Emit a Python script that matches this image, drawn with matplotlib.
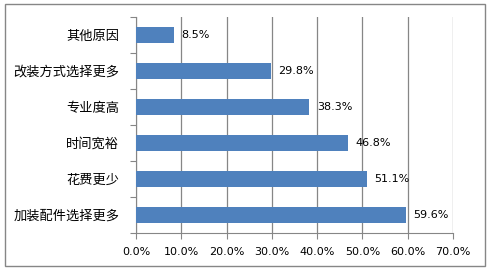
import matplotlib.pyplot as plt
from matplotlib.patches import Rectangle
import numpy as np

plt.rcParams['font.family'] = ['Noto Sans CJK SC', 'DejaVu Sans']

# data, bottom to top as drawn
reasons = ['加装配件选择更多', '花费更少', '时间宽裕', '专业度高', '改装方式选择更多', '其他原因']
pcts = [59.6, 51.1, 46.8, 38.3, 29.8, 8.5]
xticks = [0, 10, 20, 30, 40, 50, 60, 70]

fig = plt.figure(figsize=(4.9, 2.7), dpi=100)
ax = fig.add_axes([136/490, 1-233/270, (453-136)/490, (233-17)/270])

y = np.arange(len(reasons))
ax.barh(y, pcts, height=0.42, color='#4F81BD', zorder=3)
for yi, v in zip(y, pcts):
    ax.text(v + 1.6, yi, '%.1f%%' % v, va='center', ha='left', fontsize=8, family=['DejaVu Sans'], zorder=4)

ax.set_xlim(0, 70)
ax.set_ylim(-0.5, len(reasons) - 0.5)
ax.set_xticks(xticks)
ax.set_xticklabels(['%.1f%%' % t for t in xticks], fontsize=8, family=['DejaVu Sans'])
ax.set_yticks(np.arange(len(reasons) + 1) - 0.5, minor=False)
ax.set_yticklabels([])
ax.set_yticks(y, minor=True)
ax.set_yticklabels(reasons, minor=True, fontsize=9.5)
ax.tick_params(axis='y', which='minor', length=0, pad=12)
ax.tick_params(axis='y', which='major', length=4, color='#868686')
ax.tick_params(axis='x', length=4, color='#868686', pad=6)

ax.grid(axis='x', color='#868686', linewidth=0.9, zorder=0)
for s in ['top', 'right']:
    ax.spines[s].set_visible(False)
for s in ['left', 'bottom']:
    ax.spines[s].set_color('#868686')

fig.patches.append(Rectangle((5/490, 4/270), 480/490, 262/270, transform=fig.transFigure,
                             fill=False, edgecolor='#868686', linewidth=1))

fig.savefig('out.png', dpi=100)
